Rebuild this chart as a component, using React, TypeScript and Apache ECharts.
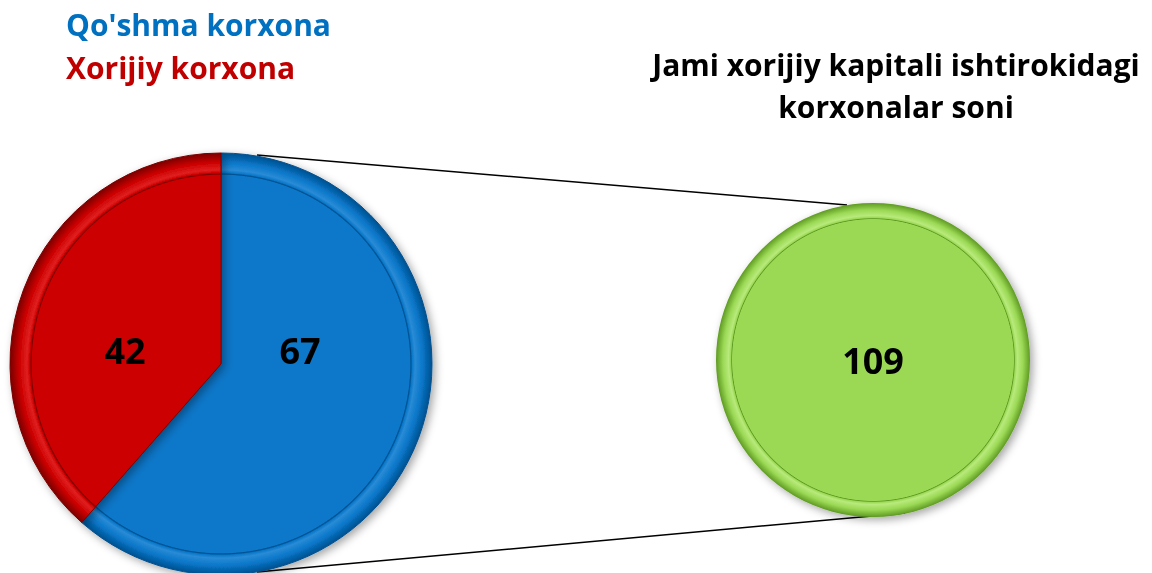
import React, { useEffect, useRef } from "react";
import * as echarts from "echarts";

const partNames = ["Qo'shma korxona", "Xorijiy korxona"];
const partValues = [67, 42];
const partColors = ["#0877c9", "#cc0000"];
const totalName = "Jami xorijiy kapitali ishtirokidagi korxonalar soni";
const totalValue = [109];
const titleLines = ["Jami xorijiy kapitali ishtirokidagi", "korxonalar soni"];

const FONT = "'Open Sans', Lato, sans-serif";

function bevel(cx: number, cy: number, r: number, base: string, dark: string, light: string) {
  return new echarts.graphic.RadialGradient(
    cx,
    cy,
    r,
    [
      { offset: 0, color: base },
      { offset: 0.895, color: base },
      { offset: 0.9, color: dark },
      { offset: 0.906, color: base },
      { offset: 0.92, color: light },
      { offset: 0.955, color: base },
      { offset: 1, color: dark },
    ],
    true
  );
}

export default function App() {
  const ref = useRef<HTMLDivElement>(null);
  useEffect(() => {
    if (!ref.current) return;
    const chart = echarts.init(ref.current, null, { renderer: "svg" });
    const L = { cx: 221, cy: 364, r: 211 };
    const R = { cx: 873, cy: 360, r: 157 };
    const shades = [
      { dark: "#03508f", light: "#2a8bd6" },
      { dark: "#7a0000", light: "#e02020" },
    ];
    chart.setOption({
      animation: false,
      legend: {
        data: partNames.map((n, i) => ({ name: n, textStyle: { color: i === 0 ? "#0070c0" : "#c00000" } })),
        orient: "vertical",
        left: 56,
        top: 4,
        icon: "none",
        itemWidth: 0,
        itemGap: 13,
        selectedMode: false,
        textStyle: { fontSize: 30, fontWeight: "bold", fontFamily: FONT },
      },
      title: {
        text: titleLines.join("\n"),
        left: 891,
        top: 38,
        textAlign: "center",
        textStyle: { fontSize: 30, fontWeight: "bold", color: "#000", fontFamily: FONT, lineHeight: 42 },
      },
      graphic: [
        { type: "line", shape: { x1: 257, y1: 155, x2: 847, y2: 205 }, style: { stroke: "#000", lineWidth: 1.5 }, z: 0 },
        { type: "line", shape: { x1: 257, y1: 572, x2: 905, y2: 513 }, style: { stroke: "#000", lineWidth: 1.5 }, z: 0 },
      ],
      series: [
        {
          type: "pie",
          center: [L.cx, L.cy],
          radius: L.r,
          startAngle: 90,
          clockwise: true,
          silent: true,
          z: 5,
          data: partNames.map((n, i) => ({
            name: n,
            value: partValues[i],
            itemStyle: {
              color: bevel(L.cx, L.cy, L.r, partColors[i], shades[i].dark, shades[i].light),
              borderColor: shades[i].dark,
              borderWidth: 1,
              shadowBlur: 8,
              shadowOffsetX: 3,
              shadowOffsetY: 3,
              shadowColor: "rgba(0,0,0,0.35)",
            },
          })),
          label: {
            show: true,
            position: "inside",
            formatter: "{c}",
            fontSize: 36,
            fontWeight: "bold",
            color: "#000",
            fontFamily: FONT,
          },
          labelLine: { show: false },
          labelLayout: (p: any) => ({
            x: p.dataIndex === 0 ? L.cx + 79 : L.cx - 96,
            y: L.cy - 14,
            align: "center",
            verticalAlign: "middle",
          }),
        },
        {
          type: "pie",
          center: [R.cx, R.cy],
          radius: R.r,
          silent: true,
          z: 5,
          data: [
            {
              name: totalName,
              value: totalValue[0],
              itemStyle: {
                color: bevel(R.cx, R.cy, R.r, "#9bd955", "#5e9a22", "#b8ea7c"),
                shadowBlur: 8,
                shadowOffsetX: 3,
                shadowOffsetY: 3,
                shadowColor: "rgba(0,0,0,0.35)",
              },
            },
          ],
          label: {
            show: true,
            position: "center",
            formatter: "{c}",
            fontSize: 36,
            fontWeight: "bold",
            color: "#000",
            fontFamily: FONT,
          },
          labelLine: { show: false },
        },
      ],
    });
    return () => chart.dispose();
  }, []);
  return <div ref={ref} style={{ position: "fixed", left: 0, top: 0, width: 1152, height: 573 }} />;
}
